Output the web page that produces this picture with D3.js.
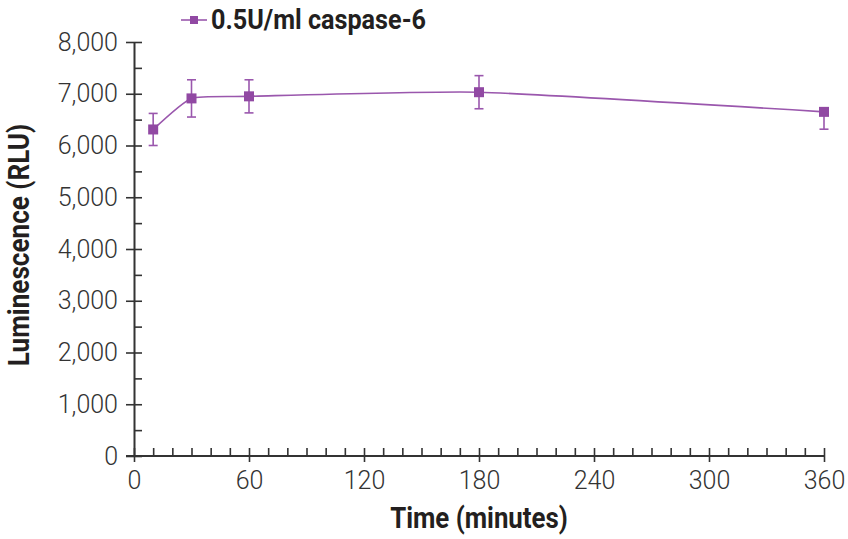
<!DOCTYPE html>
<html>
<head>
<meta charset="utf-8">
<script src="https://cdn.jsdelivr.net/npm/d3@7"></script>
<style>
  body { margin: 0; background: #fff; }
  .tick-label text { font-family: Roboto, "Liberation Sans", sans-serif; font-weight: 300; }
  .title { font-family: "Liberation Sans Narrow", "Roboto", sans-serif; font-weight: bold; fill: #231f20; }
</style>
</head>
<body>
<svg id="chart" width="848" height="539"></svg>
<script>
(function() {
	'use strict';

	// data
	var times = [10, 30, 60, 180, 360];
	var values = [6310, 6910, 6950, 7030, 6650];
	var errUp = [310, 360, 320, 320, 0];
	var errDown = [310, 360, 320, 320, 335];
	var seriesName = '0.5U/ml caspase-6';
	var xTicks = [0, 60, 120, 180, 240, 300, 360];
	var yTicks = [0, 1000, 2000, 3000, 4000, 5000, 6000, 7000, 8000];

	var purple = '#9149a3';
	var lineColor = '#9a57ad';
	var ink = '#333333';

	var svg = d3.select('#chart');

	var x = d3.scaleLinear().domain([0, 360]).range([134, 824]);
	var y = d3.scaleLinear().domain([0, 8000]).range([456, 42]);

	// outer (labelled) axes
	var yAxis = svg.append('g')
		.attr('class', 'tick-label')
		.attr('transform', 'translate(134,0)')
		.call(d3.axisLeft(y).tickValues(yTicks).tickFormat(d3.format(',')).tickSize(8).tickSizeOuter(0).tickPadding(8));

	var xAxis = svg.append('g')
		.attr('class', 'tick-label')
		.attr('transform', 'translate(0,456)')
		.call(d3.axisBottom(x).tickValues(xTicks).tickSize(6).tickSizeOuter(0).tickPadding(8));

	// inner ticks (major + minor)
	var yInner = svg.append('g')
		.attr('transform', 'translate(134,0)')
		.call(d3.axisRight(y).tickValues(d3.range(0, 8001, 500)).tickSize(8).tickSizeOuter(0).tickFormat(''));

	var xInner = svg.append('g')
		.attr('transform', 'translate(0,456)')
		.call(d3.axisTop(x).tickValues(d3.range(0, 361, 10)).tickSize(8).tickSizeOuter(0).tickFormat(''));

	[yAxis, xAxis, yInner, xInner].forEach(function(g) {
		g.select('.domain').attr('stroke', ink).attr('stroke-width', 2);
		g.selectAll('.tick line').attr('stroke', ink).attr('stroke-width', 1.6);
		g.selectAll('.tick text').attr('fill', ink).style('font-size', '25px');
	});
	yInner.select('.domain').remove();
	xInner.select('.domain').remove();
	xAxis.select('.domain').attr('d', 'M126,0H824');
	xAxis.selectAll('.tick text').attr('dy', '0.75em');

	// series line
	var points = times.map(function(t, i) {
		return {t: t, v: values[i], up: errUp[i], down: errDown[i]};});

	var line = d3.line()
		.x(function(d) {return x(d.t);})
		.y(function(d) {return y(d.v);})
		.curve(d3.curveCardinal.tension(0.5));

	svg.append('path')
		.datum(points)
		.attr('fill', 'none')
		.attr('stroke', lineColor)
		.attr('stroke-width', 1.6)
		.attr('d', line);

	// error bars
	var bars = svg.append('g').selectAll('g').data(points).enter().append('g')
		.attr('stroke', lineColor)
		.attr('stroke-width', 1.6);
	bars.append('line')
		.attr('x1', function(d) {return x(d.t);})
		.attr('x2', function(d) {return x(d.t);})
		.attr('y1', function(d) {return y(d.v + d.up);})
		.attr('y2', function(d) {return y(d.v - d.down);});
	bars.filter(function(d) {return d.up > 0;}).append('line')
		.attr('x1', function(d) {return x(d.t) - 4.5;})
		.attr('x2', function(d) {return x(d.t) + 4.5;})
		.attr('y1', function(d) {return y(d.v + d.up);})
		.attr('y2', function(d) {return y(d.v + d.up);});
	bars.append('line')
		.attr('x1', function(d) {return x(d.t) - 4.5;})
		.attr('x2', function(d) {return x(d.t) + 4.5;})
		.attr('y1', function(d) {return y(d.v - d.down);})
		.attr('y2', function(d) {return y(d.v - d.down);});

	// markers
	svg.append('g').selectAll('rect').data(points).enter().append('rect')
		.attr('x', function(d) {return x(d.t) - 5;})
		.attr('y', function(d) {return y(d.v) - 5;})
		.attr('width', 10)
		.attr('height', 10)
		.attr('fill', purple);

	// axis titles (squeezed horizontally to mimic a condensed face)
	svg.append('text')
		.attr('class', 'title')
		.attr('transform', 'translate(479,528) scale(0.89,1)')
		.attr('text-anchor', 'middle')
		.style('font-size', '29px')
		.text('Time (minutes)');

	svg.append('text')
		.attr('class', 'title')
		.attr('transform', 'translate(29,245) rotate(-90) scale(0.9,1)')
		.attr('text-anchor', 'middle')
		.style('font-size', '29px')
		.text('Luminescence (RLU)');

	// legend
	var legend = svg.append('g').attr('transform', 'translate(181,20)');
	legend.append('line')
		.attr('x1', 0).attr('x2', 26)
		.attr('stroke', lineColor).attr('stroke-width', 1.6);
	legend.append('rect')
		.attr('x', 9).attr('y', -4).attr('width', 8).attr('height', 8)
		.attr('fill', purple);
	legend.append('text')
		.attr('class', 'title')
		.attr('transform', 'translate(30,9) scale(0.9,1)')
		.style('font-size', '28px')
		.text(seriesName);
})();
</script>
</body>
</html>
